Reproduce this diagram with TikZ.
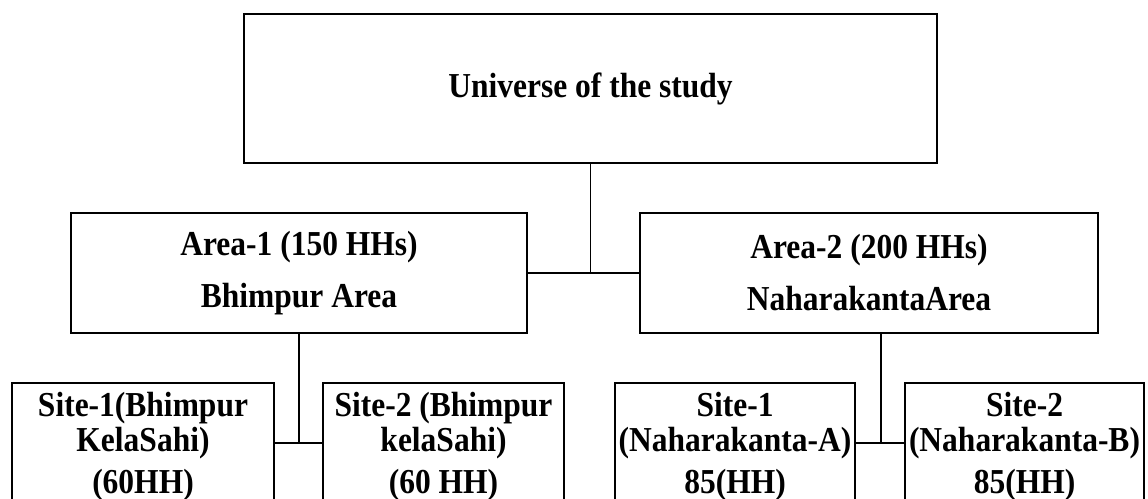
\documentclass[tikz,border=0pt]{standalone}
\usepackage{fontspec}
\setmainfont{Liberation Serif}
\newfontfamily\narrowserif[FakeStretch=0.9]{Liberation Serif}
\begin{document}
\begin{tikzpicture}[x=1pt,y=-1pt,
  box/.style={draw=black, line width=2.5pt, rectangle, inner sep=0pt,
    align=center, font=\narrowserif\bfseries\fontsize{35}{35}\selectfont},
  link/.style={draw=black, line width=1.2pt}]
\useasboundingbox (0,0) rectangle (1148,498);

% top level
\node[box, minimum width=693pt, minimum height=149pt] (uni) at (590.5,88.5)
  {\raisebox{-2pt}{Universe of the study}};

% areas
\node[box, minimum width=456pt, minimum height=120pt] (a1) at (299,273)
  {Area-1 (150 HHs)\\[17pt]Bhimpur Area};
\node[box, minimum width=458pt, minimum height=120pt] (a2) at (869,273)
  {Area-2 (200 HHs)\\[17pt]NaharakantaArea};

% sites (boxes run past the lower edge)
\node[box, minimum width=262pt, minimum height=127pt] (s1) at (143,446.5)
  {Site-1(Bhimpur\\KelaSahi)\\[7pt](60HH)};
\node[box, minimum width=241pt, minimum height=127pt] (s2) at (443.5,446.5)
  {Site-2 (Bhimpur\\kelaSahi)\\[7pt](60 HH)};
\node[box, minimum width=240pt, minimum height=127pt] (s3) at (735,446.5)
  {Site-1\\(Naharakanta-A)\\[7pt]85(HH)};
\node[box, minimum width=239pt, minimum height=127pt] (s4) at (1024.5,446.5)
  {Site-2\\(Naharakanta-B)\\[7pt]85(HH)};

% junction points
\coordinate (j1) at (299,443);
\coordinate (j2) at (881,443);

% connectors
\draw[link] (uni.south) -- (uni.south |- a1.east);
\draw[link] (a1.east) -- (a2.west);
\draw[link] (a1.south) -- (j1);
\draw[link] (s1.east |- j1) -- (s2.west |- j1);
\draw[link] (j2 |- a2.south) -- (j2);
\draw[link] (s3.east |- j2) -- (s4.west |- j2);
\end{tikzpicture}
\end{document}
